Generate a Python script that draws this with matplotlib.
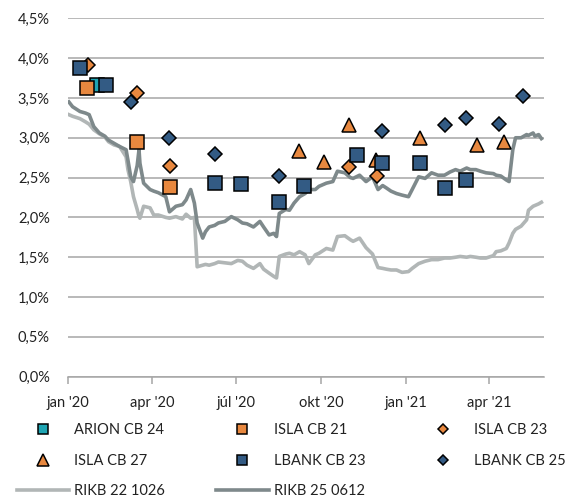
import matplotlib
matplotlib.use("Agg")
import matplotlib.pyplot as plt
from matplotlib.ticker import FuncFormatter
import pandas as pd

plt.rcParams['font.family'] = ['Lato', 'DejaVu Sans']

# ---- scatter series (date, yield %) ----
arion_cb24_dates = ["2020-02-01"]
arion_cb24_vals = [3.66]

isla_cb21_dates = ["2020-01-22", "2020-03-16", "2020-04-21"]
isla_cb21_vals = [3.63, 2.95, 2.38]

isla_cb23_dates = ["2020-01-23", "2020-03-16", "2020-04-21", "2020-11-01", "2020-12-01"]
isla_cb23_vals = [3.91, 3.56, 2.65, 2.63, 2.52]

isla_cb27_dates = ["2020-09-07", "2020-10-04", "2020-11-01", "2020-11-30",
                   "2021-01-16", "2021-03-19", "2021-04-17"]
isla_cb27_vals = [2.84, 2.70, 3.16, 2.72, 3.00, 2.91, 2.95]

lbank_cb23_dates = ["2020-01-14", "2020-02-11", "2020-06-08", "2020-07-06", "2020-08-17",
                    "2020-09-13", "2020-11-09", "2020-12-06", "2021-01-16", "2021-02-13",
                    "2021-03-07"]
lbank_cb23_vals = [3.88, 3.66, 2.43, 2.42, 2.19, 2.39, 2.78, 2.68, 2.68, 2.37, 2.47]

lbank_cb25_dates = ["2020-03-09", "2020-04-20", "2020-06-08", "2020-08-17", "2020-12-06",
                    "2021-02-13", "2021-03-07", "2021-04-12", "2021-05-08"]
lbank_cb25_vals = [3.45, 3.00, 2.79, 2.52, 3.09, 3.16, 3.25, 3.17, 3.53]

# ---- line series (government bonds) ----
rikb_dates = [
    "2020-01-02", "2020-01-06", "2020-01-14", "2020-01-20", "2020-01-24", "2020-01-29",
    "2020-02-04", "2020-02-10", "2020-02-14", "2020-02-20", "2020-02-26", "2020-03-04",
    "2020-03-06", "2020-03-09", "2020-03-12", "2020-03-16", "2020-03-18", "2020-03-19",
    "2020-03-23", "2020-03-30", "2020-04-03", "2020-04-08", "2020-04-16", "2020-04-20",
    "2020-04-27", "2020-05-04", "2020-05-08", "2020-05-13", "2020-05-17", "2020-05-20",
    "2020-05-26", "2020-05-29", "2020-06-02", "2020-06-08", "2020-06-12", "2020-06-19",
    "2020-06-26", "2020-07-03", "2020-07-08", "2020-07-13", "2020-07-20", "2020-07-27",
    "2020-07-31", "2020-08-06", "2020-08-11", "2020-08-14", "2020-08-17", "2020-08-24",
    "2020-08-28", "2020-09-02", "2020-09-08", "2020-09-14", "2020-09-18", "2020-09-25",
    "2020-09-29", "2020-10-07", "2020-10-14", "2020-10-19", "2020-10-27", "2020-11-02",
    "2020-11-05", "2020-11-12", "2020-11-19", "2020-11-26", "2020-12-02", "2020-12-07",
    "2020-12-11", "2020-12-16", "2020-12-22", "2020-12-28", "2021-01-04", "2021-01-08",
    "2021-01-15", "2021-01-22", "2021-01-29", "2021-02-05", "2021-02-12", "2021-02-18",
    "2021-02-24", "2021-03-01", "2021-03-08", "2021-03-12", "2021-03-18", "2021-03-23",
    "2021-03-29", "2021-04-06", "2021-04-09", "2021-04-14", "2021-04-20", "2021-04-23",
    "2021-04-27", "2021-04-30", "2021-05-06", "2021-05-12", "2021-05-14", "2021-05-19",
    "2021-05-21", "2021-05-25", "2021-05-28",
]
rikb25_0612_vals = [
    3.45, 3.39, 3.33, 3.31, 3.29, 3.14, 3.06, 3.02, 2.97, 2.93, 2.89, 2.85,
    2.72, 2.51, 2.45, 2.65, 2.85, 2.68, 2.43, 2.35, 2.33, 2.31, 2.26, 2.07,
    2.14, 2.16, 2.22, 2.35, 2.18, 1.93, 1.74, 1.82, 1.88, 1.90, 1.93, 1.95,
    2.01, 1.97, 1.93, 1.92, 1.88, 1.95, 1.88, 1.78, 1.80, 1.76, 2.05, 2.10,
    2.09, 2.18, 2.26, 2.30, 2.35, 2.35, 2.39, 2.43, 2.45, 2.58, 2.56, 2.50,
    2.49, 2.53, 2.45, 2.51, 2.35, 2.40, 2.37, 2.33, 2.30, 2.28, 2.26, 2.35,
    2.51, 2.49, 2.56, 2.53, 2.53, 2.57, 2.60, 2.58, 2.62, 2.60, 2.60, 2.58,
    2.56, 2.55, 2.53, 2.52, 2.47, 2.45, 2.85, 3.00, 3.00, 3.04, 3.03, 3.06,
    3.02, 3.04, 2.99,
]
rikb22_1026_vals = [
    3.29, 3.27, 3.24, 3.20, 3.17, 3.10, 3.05, 3.01, 2.95, 2.91, 2.89, 2.76,
    2.60, 2.45, 2.26, 2.10, 2.01, 1.99, 2.14, 2.12, 2.03, 2.03, 2.00, 1.99,
    2.01, 1.98, 2.04, 1.99, 2.00, 1.38, 1.40, 1.41, 1.40, 1.42, 1.44, 1.43,
    1.42, 1.46, 1.45, 1.40, 1.36, 1.42, 1.35, 1.30, 1.26, 1.24, 1.51, 1.54,
    1.55, 1.53, 1.57, 1.53, 1.42, 1.53, 1.55, 1.61, 1.59, 1.76, 1.77, 1.72,
    1.70, 1.74, 1.62, 1.54, 1.37, 1.36, 1.35, 1.34, 1.34, 1.31, 1.32, 1.36,
    1.42, 1.45, 1.47, 1.47, 1.49, 1.49, 1.50, 1.51, 1.50, 1.51, 1.50, 1.49,
    1.49, 1.52, 1.57, 1.58, 1.61, 1.68, 1.80, 1.85, 1.89, 1.97, 2.09, 2.14,
    2.15, 2.17, 2.19,
]

tick_dates = ["2020-01-01", "2020-04-01", "2020-07-01", "2020-10-01", "2021-01-01", "2021-04-01"]
tick_labels = ["jan '20", "apr '20", "júl '20", "okt '20", "jan '21", "apr '21"]
y_ticks = [0, 0.5, 1.0, 1.5, 2.0, 2.5, 3.0, 3.5, 4.0, 4.5]

# ---- colours ----
c_teal = "#1fa5b3"
c_orange = "#e8883f"
c_blue = "#335b84"
c_light = "#b1b6b6"
c_dark = "#7e898b"

fig = plt.figure(figsize=(5.71, 5.0), dpi=100)
ax = fig.add_axes([0.119, 0.2466, 0.834, 0.7168])

d = lambda lst: pd.to_datetime(lst)

h_r22, = ax.plot(d(rikb_dates), rikb22_1026_vals, color=c_light, lw=2.6, zorder=2,
                 solid_joinstyle='round', label="RIKB 22 1026")
h_r25, = ax.plot(d(rikb_dates), rikb25_0612_vals, color=c_dark, lw=2.6, zorder=2,
                 solid_joinstyle='round', label="RIKB 25 0612")

mk = dict(linestyle='none', markeredgecolor='black', markeredgewidth=1.1, zorder=3)
h_a24, = ax.plot(d(arion_cb24_dates), arion_cb24_vals, marker='s', ms=9.5,
                 markerfacecolor=c_teal, label="ARION CB 24", **mk)
h_i21, = ax.plot(d(isla_cb21_dates), isla_cb21_vals, marker='s', ms=9.5,
                 markerfacecolor=c_orange, label="ISLA CB 21", **mk)
h_i23, = ax.plot(d(isla_cb23_dates), isla_cb23_vals, marker='D', ms=7,
                 markerfacecolor=c_orange, label="ISLA CB 23", **mk)
h_i27, = ax.plot(d(isla_cb27_dates), isla_cb27_vals, marker='^', ms=10,
                 markerfacecolor=c_orange, label="ISLA CB 27", **mk)
h_l23, = ax.plot(d(lbank_cb23_dates), lbank_cb23_vals, marker='s', ms=9.5,
                 markerfacecolor=c_blue, label="LBANK CB 23", **mk)
h_l25, = ax.plot(d(lbank_cb25_dates), lbank_cb25_vals, marker='D', ms=7,
                 markerfacecolor=c_blue, label="LBANK CB 25", **mk)

ax.set_ylim(0, 4.5)
ax.set_xlim(pd.Timestamp("2020-01-01"), pd.Timestamp("2021-05-31"))
ax.set_yticks(y_ticks)
ax.yaxis.set_major_formatter(FuncFormatter(lambda v, p: f"{v:.1f}%".replace('.', ',')))
ax.set_xticks(d(tick_dates))
ax.set_xticklabels(tick_labels)

ax.grid(axis='y', color='#a6a6a6', lw=1.1, zorder=0)
ax.set_axisbelow(True)
for s in ['top', 'right', 'left']:
    ax.spines[s].set_visible(False)
ax.spines['bottom'].set_color('#a6a6a6')
ax.spines['bottom'].set_linewidth(1.1)
ax.tick_params(axis='y', length=0, pad=13, labelsize=10.5, labelcolor='#222222')
ax.tick_params(axis='x', length=5, width=1.1, color='#a6a6a6', pad=9, labelsize=10.5,
               labelcolor='#222222')

handles = [h_a24, h_i27, h_r22, h_i21, h_l23, h_r25, h_i23, h_l25]
leg = fig.legend(handles=handles, ncol=3, loc='lower left', bbox_to_anchor=(0.006, -0.023),
                 frameon=False, fontsize=10.5, handlelength=3.6, handletextpad=0.35,
                 columnspacing=3.5, labelspacing=1.13, markerscale=0.8)
for t in leg.get_texts():
    t.set_color('#222222')

fig.savefig("out.png", dpi=100)
